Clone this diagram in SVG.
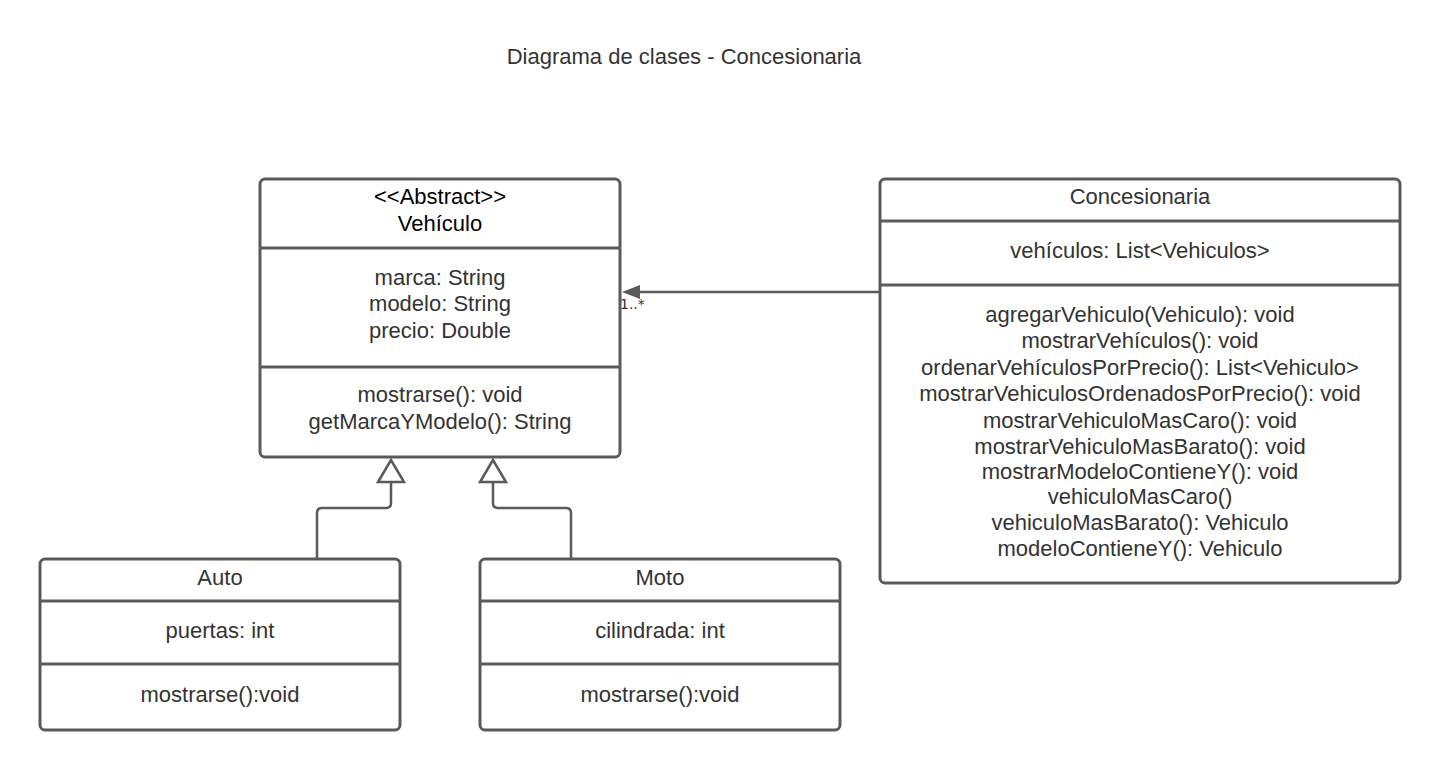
<svg xmlns="http://www.w3.org/2000/svg" width="1440" height="770" viewBox="0 0 1440 770">
<style>
.box{fill:#fff;stroke:#5a5a5a;stroke-width:3}
.div{stroke:#5a5a5a;stroke-width:3}
.t{font-family:"Liberation Sans",Arial,sans-serif;font-size:22px;fill:#333;text-anchor:middle}
.k{fill:#000}
.conn{fill:none;stroke:#5a5a5a;stroke-width:2.5}
.gen{fill:#fff;stroke:#5a5a5a;stroke-width:2.5}
</style>
<rect width="1440" height="770" fill="#fff"/>
<text class="t" x="684" y="64">Diagrama de clases - Concesionaria</text>

<g id="vehiculo">
<rect class="box" x="260" y="179" width="360" height="278" rx="5"/>
<line class="div" x1="260" y1="248" x2="620" y2="248"/>
<line class="div" x1="260" y1="367" x2="620" y2="367"/>
<text class="t k" x="440" y="204">&lt;&lt;Abstract&gt;&gt;</text>
<text class="t k" x="440" y="231">Vehículo</text>
<text class="t" x="440" y="285">marca: String</text>
<text class="t" x="440" y="311">modelo: String</text>
<text class="t" x="440" y="338">precio: Double</text>
<text class="t" x="440" y="402">mostrarse(): void</text>
<text class="t" x="440" y="429">getMarcaYModelo(): String</text>
</g>

<g id="concesionaria">
<rect class="box" x="880" y="179" width="520" height="404" rx="5"/>
<line class="div" x1="880" y1="221" x2="1400" y2="221"/>
<line class="div" x1="880" y1="285" x2="1400" y2="285"/>
<text class="t" x="1140" y="204">Concesionaria</text>
<text class="t" x="1140" y="258">vehículos: List&lt;Vehiculos&gt;</text>
<text class="t" x="1140" y="322">agregarVehiculo(Vehiculo): void</text>
<text class="t" x="1140" y="348">mostrarVehículos(): void</text>
<text class="t" x="1140" y="375">ordenarVehículosPorPrecio(): List&lt;Vehiculo&gt;</text>
<text class="t" x="1140" y="401">mostrarVehiculosOrdenadosPorPrecio(): void</text>
<text class="t" x="1140" y="428">mostrarVehiculoMasCaro(): void</text>
<text class="t" x="1140" y="454">mostrarVehiculoMasBarato(): void</text>
<text class="t" x="1140" y="479">mostrarModeloContieneY(): void</text>
<text class="t" x="1140" y="504">vehiculoMasCaro()</text>
<text class="t" x="1140" y="530">vehiculoMasBarato(): Vehiculo</text>
<text class="t" x="1140" y="556">modeloContieneY(): Vehiculo</text>
</g>

<g id="auto">
<rect class="box" x="40" y="559" width="360" height="171" rx="5"/>
<line class="div" x1="40" y1="601" x2="400" y2="601"/>
<line class="div" x1="40" y1="664" x2="400" y2="664"/>
<text class="t" x="220" y="585">Auto</text>
<text class="t" x="220" y="638">puertas: int</text>
<text class="t" x="220" y="702">mostrarse():void</text>
</g>

<g id="moto">
<rect class="box" x="480" y="559" width="360" height="171" rx="5"/>
<line class="div" x1="480" y1="601" x2="840" y2="601"/>
<line class="div" x1="480" y1="664" x2="840" y2="664"/>
<text class="t" x="660" y="585">Moto</text>
<text class="t" x="660" y="638">cilindrada: int</text>
<text class="t" x="660" y="702">mostrarse():void</text>
</g>

<g id="connectors">
<path class="conn" d="M317 558 V513 Q317 508 322 508 H386 Q391 508 391 503 V482"/>
<polygon class="gen" points="391,460 378,482 404,482"/>
<path class="conn" d="M571 558 V513 Q571 508 566 508 H498 Q493 508 493 503 V482"/>
<polygon class="gen" points="493,460 480,482 506,482"/>
<line class="conn" x1="879" y1="292" x2="638" y2="292"/>
<polygon points="622,292 640,285 640,299" fill="#5a5a5a"/>
<text x="620" y="309" style="font-family:'DejaVu Sans',sans-serif;font-size:14px;fill:#333">1..*</text>
</g>
</svg>
